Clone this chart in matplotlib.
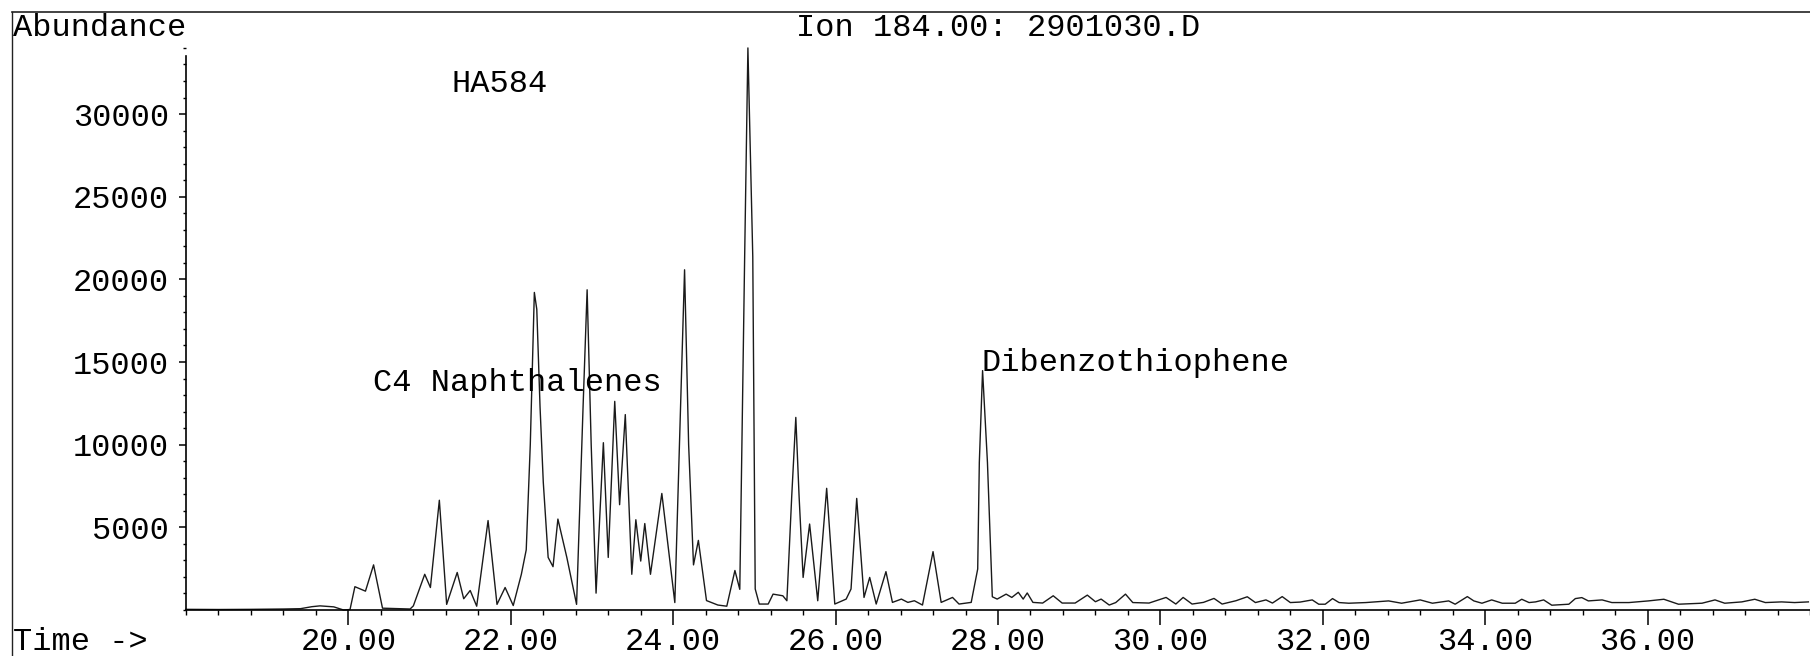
import matplotlib
matplotlib.use("Agg")
import matplotlib.pyplot as plt
from matplotlib.lines import Line2D
from matplotlib.ticker import MultipleLocator, FixedLocator, FormatStrFormatter

# retention time (min) and abundance
time_min = [
    18.00, 18.40, 18.80, 19.20, 19.41, 19.55, 19.65, 19.82, 19.94, 20.02,
    20.08, 20.21, 20.31, 20.42, 20.60, 20.76, 20.80, 20.94, 21.01, 21.12,
    21.21, 21.34, 21.42, 21.50, 21.58, 21.72, 21.83, 21.93, 22.03, 22.13,
    22.19, 22.24, 22.29, 22.32, 22.36, 22.40, 22.46, 22.52, 22.58, 22.69,
    22.81, 22.89, 22.94, 22.99, 23.05, 23.14, 23.20, 23.28, 23.34, 23.41,
    23.49, 23.54, 23.60, 23.65, 23.72, 23.86, 24.02, 24.09, 24.14, 24.19,
    24.25, 24.31, 24.41, 24.55, 24.66, 24.76, 24.82, 24.88, 24.92, 24.98,
    25.01, 25.06, 25.17, 25.23, 25.35, 25.40, 25.46, 25.51, 25.55, 25.60,
    25.68, 25.78, 25.89, 25.99, 26.13, 26.19, 26.26, 26.35, 26.42, 26.50,
    26.62, 26.70, 26.81, 26.89, 26.97, 27.07, 27.20, 27.30, 27.44, 27.52,
    27.67, 27.75, 27.77, 27.81, 27.87, 27.93, 27.99, 28.10, 28.17, 28.25,
    28.31, 28.36, 28.43, 28.55, 28.68, 28.79, 28.95, 29.10, 29.20, 29.27,
    29.37, 29.45, 29.57, 29.66, 29.86, 30.07, 30.19, 30.28, 30.39, 30.53,
    30.66, 30.76, 30.93, 31.07, 31.17, 31.30, 31.38, 31.50, 31.60, 31.72,
    31.87, 31.95, 32.03, 32.12, 32.20, 32.32, 32.53, 32.81, 32.97, 33.20,
    33.35, 33.55, 33.63, 33.78, 33.86, 33.96, 34.08, 34.21, 34.37, 34.45,
    34.54, 34.62, 34.72, 34.82, 35.03, 35.11, 35.19, 35.27, 35.44, 35.56,
    35.77, 36.01, 36.20, 36.38, 36.67, 36.83, 36.95, 37.16, 37.32, 37.45,
    37.65, 37.81, 37.98,
]
abundance = [
    40, 30, 40, 60, 80, 200, 250, 190, 0, 30,
    1410, 1140, 2730, 110, 80, 60, 250, 2160, 1360, 6640,
    340, 2270, 680, 1180, 230, 5410, 340, 1360, 270, 2160,
    3640, 10000, 19210, 18190, 12300, 7730, 3180, 2620, 5500, 3180,
    340, 12280, 19370, 10010, 1020, 10120, 3180, 12620, 6370, 11820,
    2160, 5460, 2960, 5230, 2160, 7050, 450, 12280, 20580, 10010,
    2730, 4210, 570, 300, 230, 2390, 1250, 21370, 34000, 21370,
    1270, 360, 360, 960, 860, 560, 6910, 11650, 6910, 1970,
    5200, 560, 7360, 360, 660, 1270, 6750, 760, 1970, 360,
    2320, 460, 660, 460, 560, 300, 3530, 460, 760, 360,
    460, 2480, 8930, 14480, 8930, 800, 660, 960, 760, 1070,
    660, 1030, 460, 420, 860, 420, 420, 900, 500, 660,
    300, 450, 960, 450, 420, 760, 360, 760, 360, 460,
    700, 360, 560, 800, 450, 610, 420, 810, 450, 480,
    610, 350, 350, 690, 450, 410, 450, 550, 410, 610,
    410, 550, 350, 810, 550, 410, 610, 410, 410, 650,
    450, 490, 610, 290, 350, 690, 750, 550, 610, 450,
    450, 550, 650, 350, 410, 610, 410, 490, 650, 450,
    490, 450, 490,
]

major_ticks = [20, 22, 24, 26, 28, 30, 32, 34, 36]
y_labels = [5000, 10000, 15000, 20000, 25000, 30000]

# (label, time, abundance at text baseline)
peak_labels = [
    ("HA584", 21.275, 31320),
    ("C4 Naphthalenes", 20.30, 13230),
    ("Dibenzothiophene", 27.795, 14440),
]

FONT = "Liberation Mono"
FS = 23
W, H = 1810, 656

fig = plt.figure(figsize=(W / 100, H / 100), dpi=100)
ax = fig.add_axes([186 / W, (H - 610) / H, 1 - 186 / W, 570 / H])

ax.plot(time_min, abundance, color="#1a1a1a", lw=1.0, clip_on=False)

ax.set_xlim(18, 38)
ax.set_ylim(0, 34480)

for s in ("top", "right"):
    ax.spines[s].set_visible(False)
ax.spines["left"].set_bounds(0, 33500)
ax.spines["left"].set_linewidth(1.2)
ax.spines["bottom"].set_linewidth(1.2)

ax.xaxis.set_major_locator(FixedLocator(major_ticks))
ax.xaxis.set_minor_locator(MultipleLocator(0.4))
ax.xaxis.set_major_formatter(FormatStrFormatter("%.2f"))
ax.yaxis.set_major_locator(FixedLocator(y_labels))
ax.yaxis.set_minor_locator(MultipleLocator(1000))

ax.tick_params(axis="x", which="major", direction="out", length=10.8, width=1.1, pad=1.5)
ax.tick_params(axis="x", which="minor", direction="out", length=3.6, width=1.0)
ax.tick_params(axis="y", which="major", direction="out", length=5, width=1.1, pad=7)
ax.tick_params(axis="y", which="minor", direction="out", length=2.5, width=1.0)

for lab in ax.get_xticklabels() + ax.get_yticklabels():
    lab.set_fontfamily(FONT)
    lab.set_fontsize(FS)

for text, t, v in peak_labels:
    ax.text(t, v, text, fontfamily=FONT, fontsize=FS, va="baseline", ha="left")

fig.text(13 / W, 1 - 36 / H, "Abundance", fontfamily=FONT, fontsize=FS, va="baseline")
fig.text(796 / W, 1 - 36 / H, "Ion 184.00: 2901030.D", fontfamily=FONT, fontsize=FS,
         va="baseline")
fig.text(13 / W, 1 - 650 / H, "Time ->", fontfamily=FONT, fontsize=FS, va="baseline")

# page frame: top and left rules
fig.add_artist(Line2D([12 / W, 1], [1 - 12 / H, 1 - 12 / H], color="#222", lw=1.2))
fig.add_artist(Line2D([12 / W, 12 / W], [0, 1 - 12 / H], color="#222", lw=1.0))

fig.savefig("out.png", dpi=100)
